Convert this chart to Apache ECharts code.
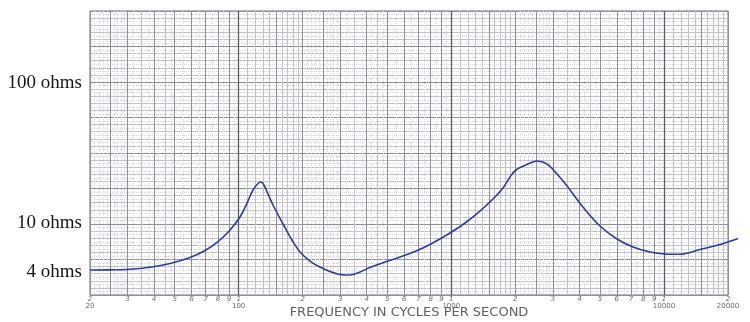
<!DOCTYPE html>
<html>
<head>
<meta charset="utf-8">
<script src="https://cdn.jsdelivr.net/npm/echarts@6/dist/echarts.min.js"></script>
<style>
  html, body { margin: 0; padding: 0; background: #fff; }
  #chart { width: 750px; height: 322px; }
</style>
</head>
<body>
<div id="chart"></div>
<script>
// Loudspeaker impedance curve: frequency (Hz) against impedance (ohms)
const freqHz = [20, 24.8, 30.8, 38.3, 47.6, 59.1, 69.5, 80.0, 91.1, 101.5,
  109.5, 116.8, 123.3, 127.4, 131.6, 137.4, 146.6, 161.7, 178.1, 194.3,
  216.5, 241.2, 268.9, 299.6, 333.9, 372.1, 414.7, 487.7, 573.7, 674.8,
  793.8, 985.8, 1160, 1364, 1571, 1750, 1888, 2014, 2245, 2529,
  2818, 3141, 3500, 4160, 5002, 6012, 7150, 8596, 10110, 11898,
  14772, 18344, 22284];
const impedanceOhms = [4.62, 4.63, 4.67, 4.83, 5.14, 5.67, 6.36, 7.35, 8.91, 11.04,
  13.89, 17.21, 19.15, 19.63, 18.68, 16.11, 13.01, 9.84, 7.56, 6.21,
  5.35, 4.85, 4.50, 4.29, 4.25, 4.47, 4.81, 5.26, 5.71, 6.26,
  7.02, 8.48, 10.0, 12.18, 14.84, 17.78, 21.31, 23.91, 25.96, 27.73,
  26.39, 22.39, 18.38, 13.01, 9.52, 7.69, 6.74, 6.21, 6.01, 5.98,
  6.47, 7.02, 7.75];

// Frequency scale labels: one digit per printed line, decade names underneath
const xLabelValues = [20, 30, 40, 50, 60, 70, 80, 90, 100, 200, 300, 400, 500, 600, 700, 800, 900,
  1000, 2000, 3000, 4000, 5000, 6000, 7000, 8000, 9000, 10000, 20000];
const xLabelDigits = ['2', '3', '4', '5', '6', '7', '8', '9', '1', '2', '3', '4', '5', '6', '7', '8', '9',
  '1', '2', '3', '4', '5', '6', '7', '8', '9', '1', '2'];
const xDecadeValues = [20, 100, 1000, 10000, 20000];
const xDecadeLabels = ['20', '100', '1000', '10000', '20000'];

// Impedance scale labels
const yLabelValues = [4, 10, 100];
const yLabelTexts = ['4 ohms', '10 ohms', '100 ohms'];

const X_MIN = 20, X_MAX = 20000;
const Y_MIN = 3.061, Y_MAX = 326.8;
// The trace runs a little past the printed 20000 line; its own scale keeps the
// same decade width (grid 0 is 638px wide over 3 decades, grid 1 is 648px wide).
const TRACE_X_MAX = X_MIN * Math.pow(10, 648 * 3 / 638);

// Semi-log graph paper rulings along the frequency axis
function ruling(mults) {
  const out = [];
  [10, 100, 1000, 10000].forEach(function (b) {
    mults.forEach(function (m) {
      const v = Math.round(b * m * 1000) / 1000;
      if (v >= X_MIN && v <= X_MAX) out.push(v);
    });
  });
  return out;
}
function steps(a, b, s, skip) {
  const out = [];
  for (let v = a + s; v < b - 1e-9; v += s) {
    const r = Math.round(v * 100) / 100;
    if (!skip || skip.indexOf(r) < 0) out.push(r);
  }
  return out;
}
const mainRule = ruling([1, 1.5, 2, 2.5, 3, 4, 5, 6, 7, 8, 9]);
const decadeRule = [100, 1000, 10000];
const minorRule = ruling(steps(1, 2, 0.1, [1.5]).concat([3.5, 4.5]));
const fineRule = ruling(steps(2, 3, 0.1, [2.5]).concat(steps(3, 5, 0.2, [3.4, 3.6, 4.4, 4.6, 3.5, 4.5, 4]))
  .concat([5.5, 6.5, 7.5, 8.5, 9.5]));

function gridX(values, color, type, width) {
  return {
    type: 'log', logBase: 10, min: X_MIN, max: X_MAX, position: 'bottom', gridIndex: 0,
    axisLine: { show: false },
    axisTick: { show: false, customValues: values },
    axisLabel: { show: false },
    splitLine: { show: true, lineStyle: { color: color, type: type, width: width } }
  };
}

const chart = echarts.init(document.getElementById('chart'), null, { renderer: 'canvas' });

chart.setOption({
  animation: false,
  backgroundColor: '#ffffff',
  grid: [
    {
      left: 90, right: 22, top: 11, bottom: 27,
      outerBoundsMode: 'none',
      containLabel: false,
      show: true, borderColor: '#6f6f78', borderWidth: 1, backgroundColor: 'transparent'
    },
    {
      left: 90, right: 12, top: 11, bottom: 27,
      outerBoundsMode: 'none',
      containLabel: false,
      show: false
    }
  ],
  xAxis: [
    gridX(fineRule, '#d8d8e2', 'dotted', 1),
    gridX(minorRule, '#c2c2cc', 'solid', 1),
    gridX(mainRule, '#8f8f98', 'solid', 1),
    gridX(decadeRule, '#5a5a62', 'solid', 1.3),
    {
      type: 'log', logBase: 10, min: X_MIN, max: X_MAX, position: 'bottom', gridIndex: 0,
      axisLine: { show: false },
      axisTick: { show: false, customValues: xLabelValues },
      splitLine: { show: false },
      axisLabel: {
        customValues: xLabelValues,
        margin: 1,
        formatter: function (value) {
          const v = Math.round(value);
          const i = xLabelValues.indexOf(v);
          const digit = i >= 0 ? xLabelDigits[i] : '';
          const d = xDecadeValues.indexOf(v);
          return '{d|' + digit + '}' + (d >= 0 ? '\n{n|' + xDecadeLabels[d] + '}' : '');
        },
        rich: {
          d: { fontFamily: 'DejaVu Sans', fontSize: 7, color: '#6a6a6a', lineHeight: 7, fontStyle: 'italic' },
          n: { fontFamily: 'DejaVu Sans', fontSize: 7, color: '#6a6a6a', lineHeight: 7 }
        }
      },
      name: 'FREQUENCY IN CYCLES PER SECOND',
      nameLocation: 'middle',
      nameGap: 11,
      nameMoveOverlap: false,
      nameTextStyle: { fontFamily: 'DejaVu Sans', fontSize: 13, color: '#606060' }
    },
    {
      type: 'log', logBase: 10, min: X_MIN, max: TRACE_X_MAX, gridIndex: 1, show: false
    }
  ],
  yAxis: [
    {
      type: 'value', min: 0, max: 80, interval: 1, gridIndex: 0,
      axisLine: { show: false }, axisTick: { show: false }, axisLabel: { show: false },
      splitLine: { show: true, lineStyle: { color: '#d8d8e2', type: 'dotted' } }
    },
    {
      type: 'value', min: 0, max: 8, interval: 1, position: 'right', gridIndex: 0,
      axisLine: { show: false }, axisTick: { show: false }, axisLabel: { show: false },
      minorTick: { show: false, splitNumber: 5 },
      minorSplitLine: { show: true, lineStyle: { color: '#c2c2cc' } },
      splitLine: { show: true, lineStyle: { color: '#8f8f98' } }
    },
    {
      type: 'log', logBase: 10, min: Y_MIN, max: Y_MAX, position: 'left', gridIndex: 0,
      axisLine: { show: false },
      axisTick: { show: false, customValues: yLabelValues },
      splitLine: { show: false },
      axisLabel: {
        customValues: yLabelValues,
        margin: 8,
        formatter: function (value) {
          let best = 0;
          yLabelValues.forEach(function (v, i) {
            if (Math.abs(Math.log(v / value)) < Math.abs(Math.log(yLabelValues[best] / value))) best = i;
          });
          // the lowest label sits slightly above its ruling
          return best === 0 ? '{t|' + yLabelTexts[best] + '}\n{g| }' : '{t|' + yLabelTexts[best] + '}';
        },
        rich: {
          t: { fontFamily: 'Liberation Serif', fontSize: 19, color: '#151515', lineHeight: 20 },
          g: { fontSize: 1, lineHeight: 13, height: 13 }
        }
      }
    },
    {
      type: 'log', logBase: 10, min: Y_MIN, max: Y_MAX, gridIndex: 1, show: false
    }
  ],
  series: [
    {
      type: 'line',
      xAxisIndex: 5,
      yAxisIndex: 3,
      data: freqHz.map(function (f, i) { return [f, impedanceOhms[i]]; }),
      showSymbol: false,
      smooth: 0.35,
      clip: false,
      lineStyle: { color: '#2b3c9e', width: 1.6 },
      z: 5
    }
  ]
});
</script>
</body>
</html>
